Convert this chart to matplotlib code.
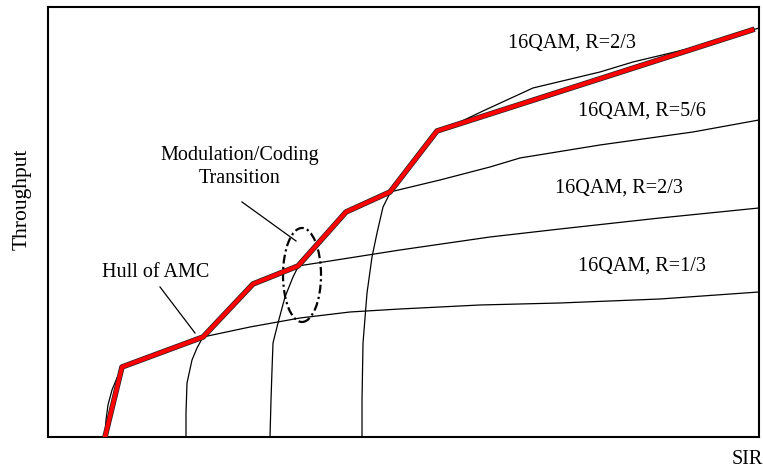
import matplotlib
matplotlib.use("Agg")
import matplotlib.pyplot as plt
import matplotlib.patheffects as pe
from matplotlib.patches import Ellipse

# Throughput vs SIR for each modulation/coding scheme (arbitrary units)
sir_r13 = [57, 58, 60, 64, 69, 74, 112, 155, 202, 252, 302, 352, 432, 512, 612, 711]
thr_r13 = [0, 17, 32, 47, 59, 69, 85, 100, 110, 119, 125, 128, 132, 134, 138, 145]

sir_r23 = [138, 138, 139, 144, 149, 155, 180, 205, 227, 250, 282, 352, 442, 512, 612, 711]
thr_r23 = [0, 24, 54, 77, 89, 100, 126, 153, 163, 171, 176, 187, 200, 208, 219, 229]

sir_r56 = [222, 223, 224, 225, 230, 237, 245, 250, 274, 298, 320, 342, 392, 442, 472, 552, 645, 711]
thr_r56 = [0, 37, 67, 94, 114, 140, 160, 170, 197, 225, 236, 245, 257, 270, 279, 292, 305, 317]

sir_top = [314, 314, 315, 319, 324, 329, 335, 342, 364, 389, 412, 435, 485, 552, 585, 652, 711]
thr_top = [0, 37, 94, 144, 180, 204, 230, 244, 275, 306, 315, 326, 349, 365, 375, 391, 409]

# envelope of the adaptive modulation and coding curves
sir_hull = [57, 74, 155, 205, 250, 298, 342, 389, 704]
thr_hull = [0, 70, 100, 153, 171, 225, 245, 306, 407]

labels = ["16QAM, R=1/3", "16QAM, R=2/3", "16QAM, R=5/6", "16QAM, R=2/3"]
label_pos = [(594, 171), (571, 249), (594, 326), (524, 394)]

plt.rcParams["font.family"] = ["Liberation Serif", "DejaVu Serif"]

fig = plt.figure(figsize=(7.63, 4.71), dpi=100)
ax = fig.add_axes([0.0629, 0.0722, 0.9319, 0.9130])

for s, t in [(sir_r13, thr_r13), (sir_r23, thr_r23), (sir_r56, thr_r56), (sir_top, thr_top)]:
    ax.plot(s, t, color="black", lw=0.9, zorder=2)

ax.plot(sir_hull, thr_hull, color="red", lw=3.0, solid_joinstyle="round",
        path_effects=[pe.Stroke(linewidth=4.0, foreground="#222222"), pe.Normal()],
        zorder=4)

for txt, (x, y) in zip(labels, label_pos):
    ax.text(x, y, txt, fontsize=14.5, ha="center", va="center")

# transition region marker
ax.add_patch(Ellipse((254, 162), 38, 94, fill=False, ls=(0, (4, 1.5, 1, 1.5)),
                     lw=1.6, color="black", zorder=3))
ax.plot([194, 248], [235, 196], color="black", lw=0.9)
ax.text(192, 281, "Modulation/Coding", fontsize=14.5, ha="center", va="center")
ax.text(192, 258, "Transition", fontsize=14.5, ha="center", va="center")

ax.plot([112, 147], [150, 104], color="black", lw=0.9)
ax.text(108, 164, "Hull of AMC", fontsize=14.5, ha="center", va="center")

ax.set_xlim(0, 711)
ax.set_ylim(0, 430)
ax.set_xticks([])
ax.set_yticks([])
for sp in ax.spines.values():
    sp.set_linewidth(1.5)

fig.text(22 / 763, 1 - 199 / 471, "Throughput", rotation=90, fontsize=15.5,
         ha="center", va="center")
fig.text(747 / 763, 1 - 459 / 471, "SIR", fontsize=14.5, ha="center", va="center")

fig.savefig("out.png", dpi=100)
